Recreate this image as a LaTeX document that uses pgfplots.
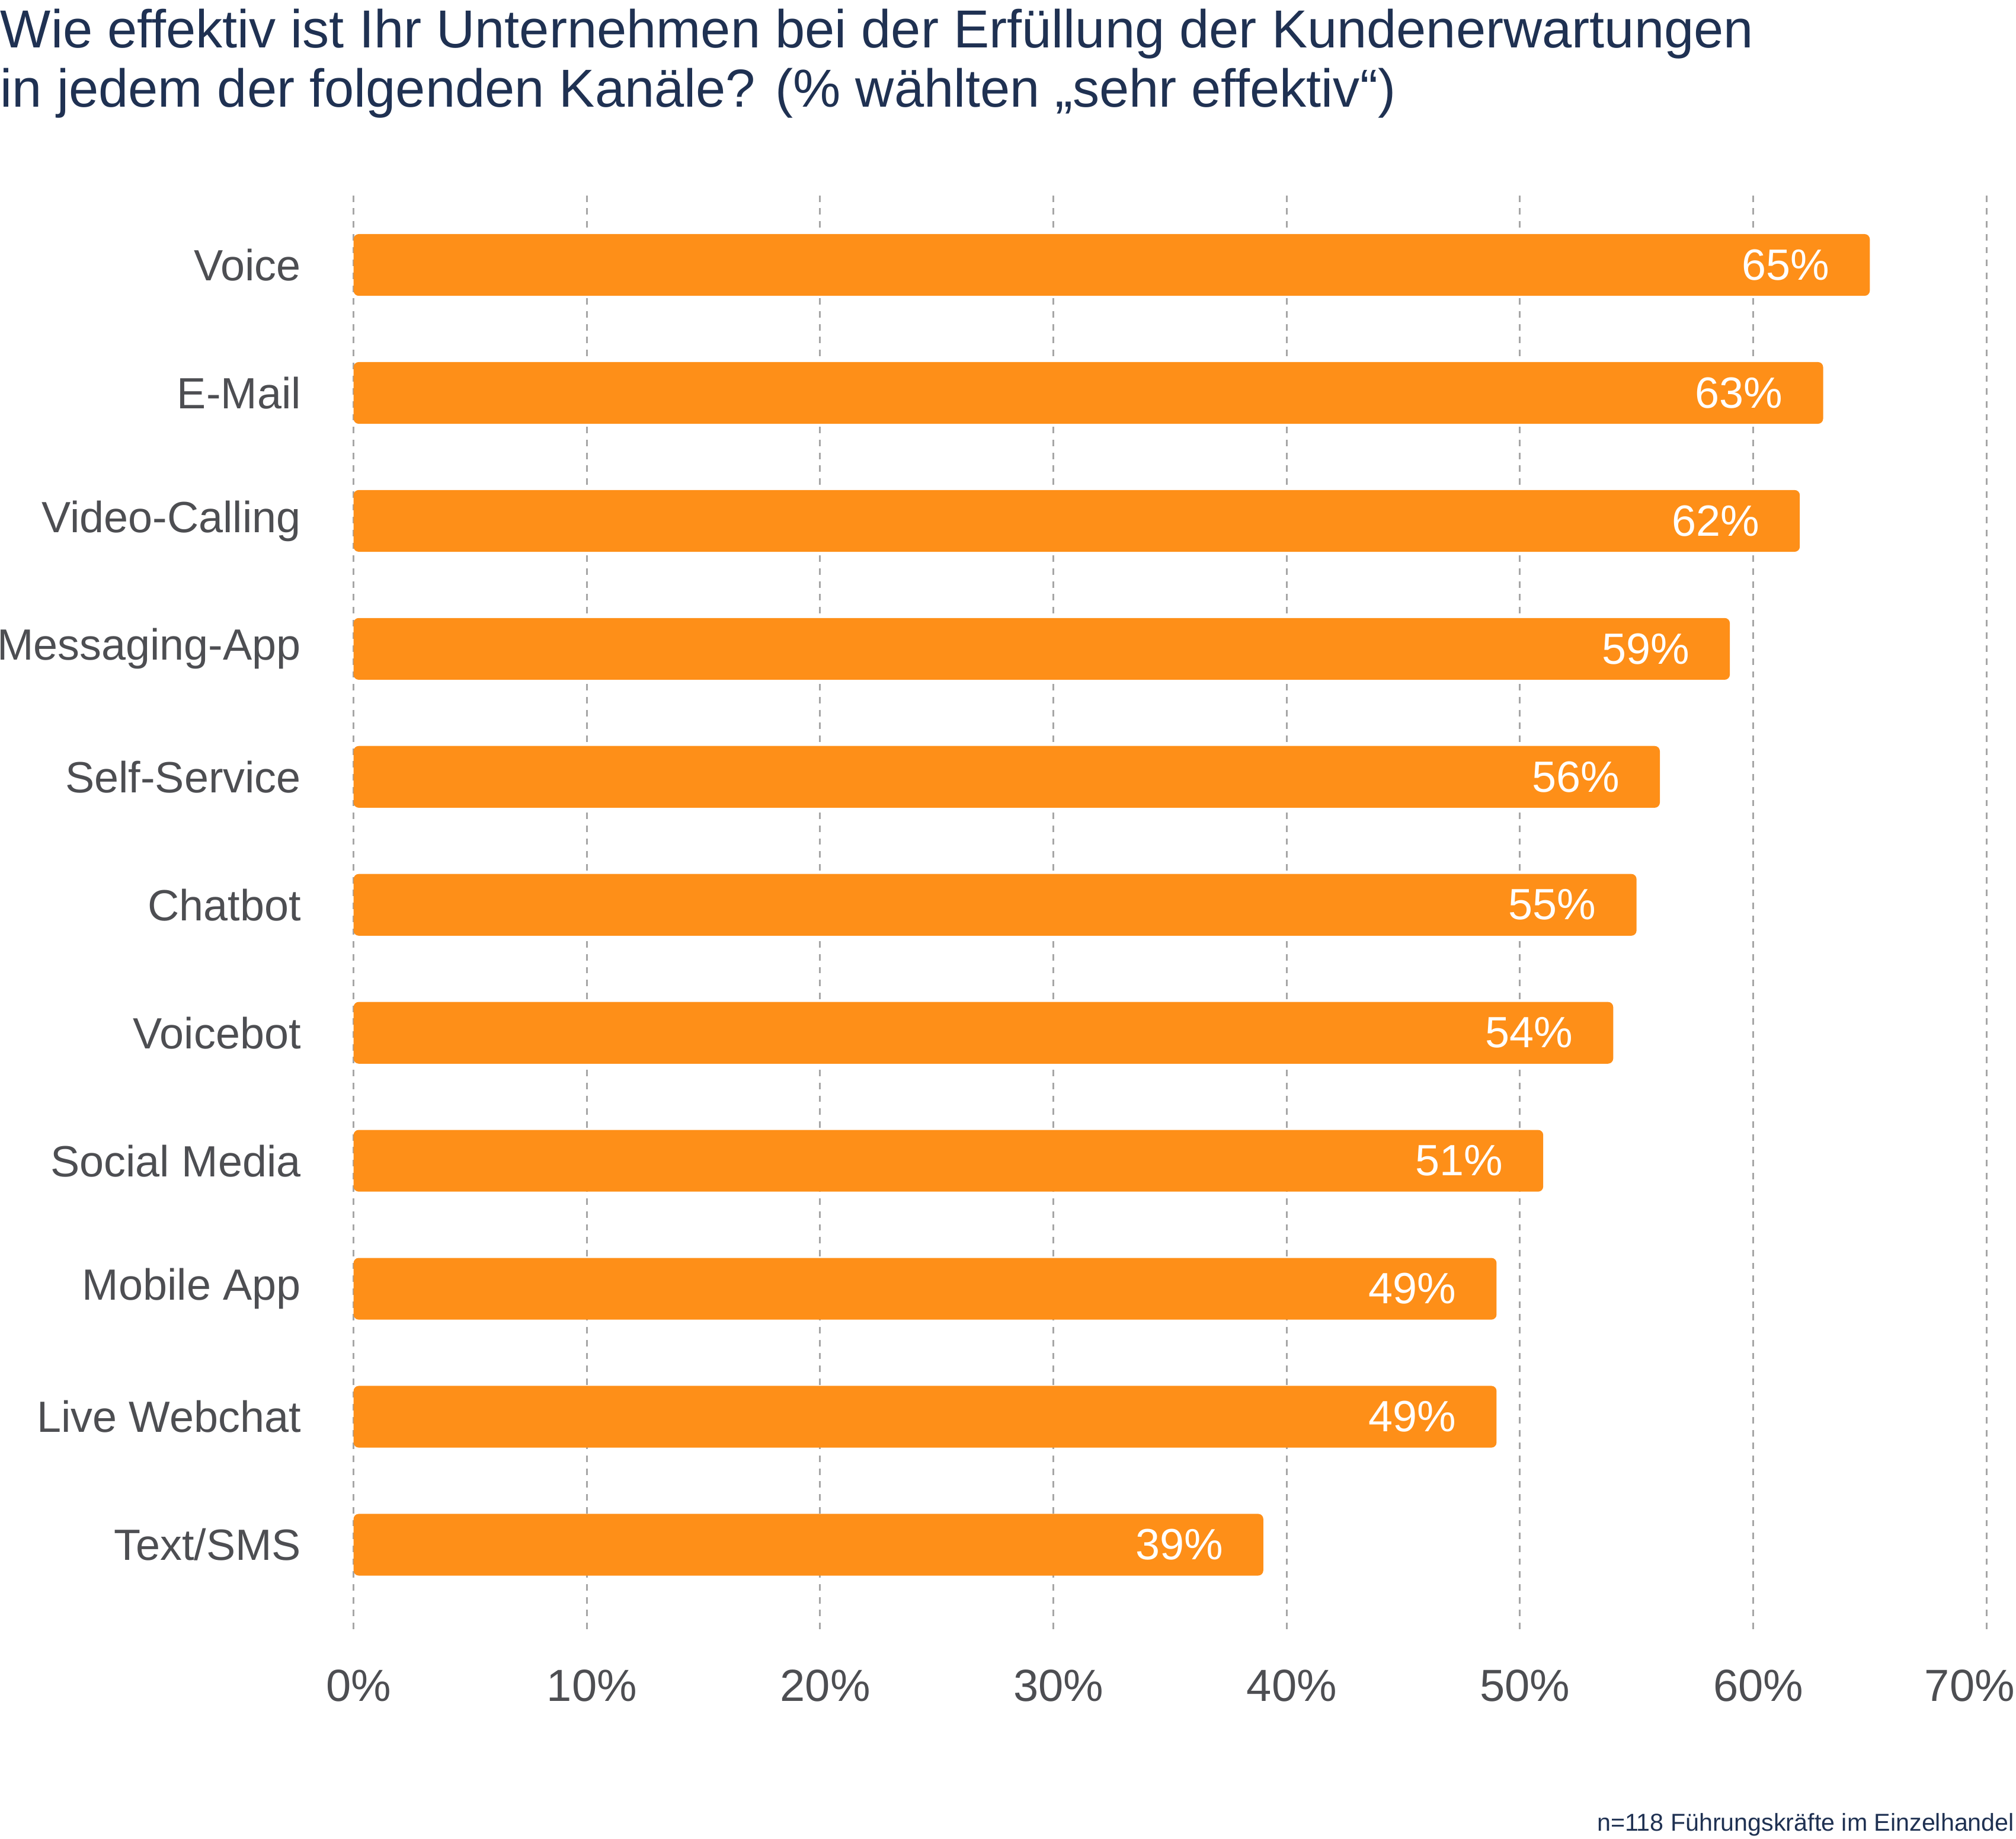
\documentclass[border=0pt]{standalone}
\usepackage{fontspec}
\setmainfont{Liberation Sans}
\usepackage{pgfplots}
\pgfplotsset{compat=1.18}
\definecolor{barorange}{HTML}{FE8F18}
\definecolor{navy}{HTML}{1F3152}
\definecolor{labelgray}{HTML}{4D4E52}
\definecolor{gridgray}{HTML}{A6A6A6}
\begin{document}
\begin{tikzpicture}
\path[use as bounding box] (-137.5pt,-81pt) rectangle (646.5pt,634pt);
\begin{axis}[
  name=ax,
  at={(0,0)}, anchor=south west,
  scale only axis,
  width=635pt, height=558pt,
  xbar, bar width=24pt,
  xmin=0, xmax=70,
  ymin=-0.543, ymax=10.67,
  y dir=reverse,
  axis line style={draw=none},
  major tick style={draw=none},
  xtick={0,10,...,70},
  xticklabels={0\%,10\%,20\%,30\%,40\%,50\%,60\%,\makebox[18pt][r]{70\%}},
  ytick={0,...,10},
  yticklabels={Voice,E-Mail,Video-Calling,Messaging-App,Self-Service,Chatbot,Voicebot,Social Media,Mobile App,Live Webchat,Text/SMS},
  xmajorgrids,
  major grid style={draw=gridgray, line width=0.7pt, dash pattern=on 2.5pt off 2.5pt},
  xticklabel style={font=\fontsize{17.5}{20}\selectfont, text=labelgray, inner sep=0pt, anchor=north, yshift=-15pt, xshift=2pt},
  yticklabel style={font=\fontsize{17}{20}\selectfont, text=labelgray, inner sep=0pt, anchor=east, xshift=-16pt},
  /pgf/number format/assume math mode=true,
  point meta=x,
  nodes near coords={\pgfmathprintnumber{\pgfplotspointmeta}\%},
  every node near coord/.append style={font=\fontsize{17}{20}\selectfont, text=white, anchor=east, inner sep=0pt, xshift=-15.5pt},
  clip=false,
]
\addplot[fill=barorange, draw=none, rounded corners=2pt] coordinates {
(65,0) (63,1) (62,2) (59,3) (56,4) (55,5) (54,6) (51,7) (49,8) (49,9) (39,10)
};
\end{axis}
\node[anchor=base west, inner sep=0pt, text=navy, font=\fontsize{20.8}{23}\selectfont]
  at (-137.5pt,634pt-18.5pt)
  {Wie effektiv ist Ihr Unternehmen bei der Erfüllung der Kundenerwartungen};
\node[anchor=base west, inner sep=0pt, text=navy, font=\fontsize{20.8}{23}\selectfont]
  at (-137.5pt,634pt-41.5pt)
  {in jedem der folgenden Kanäle? (\% wählten „sehr effektiv“)};
\node[anchor=base east, inner sep=0pt, text=navy, font=\fontsize{9.5}{10}\selectfont]
  at (646pt,-78pt)
  {n=118 Führungskräfte im Einzelhandel};
\end{tikzpicture}
\end{document}
